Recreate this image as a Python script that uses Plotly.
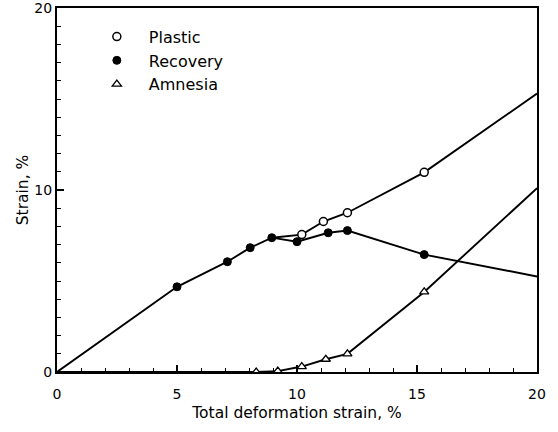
import plotly.graph_objects as go

recovery_x = [5.0, 7.1, 8.05, 8.95, 10.0, 11.3, 12.1, 15.3]
recovery_y = [4.68, 6.06, 6.83, 7.38, 7.16, 7.65, 7.77, 6.45]

plastic_x = [10.2, 11.1, 12.1, 15.3]
plastic_y = [7.55, 8.27, 8.75, 10.97]

amnesia_x = [8.3, 9.2, 10.2, 11.2, 12.1, 15.3]
amnesia_y = [0.0, 0.05, 0.3, 0.7, 1.0, 4.4]

# Fitted curves drawn through the points
recovery_line_x = [0.0, 5.0, 7.1, 8.05, 8.95, 10.0, 11.3, 12.1, 15.3, 20.0]
recovery_line_y = [0.0, 4.68, 6.06, 6.83, 7.38, 7.16, 7.65, 7.77, 6.45, 5.25]

plastic_line_x = [8.95, 10.2, 11.1, 12.1, 15.3, 20.0]
plastic_line_y = [7.38, 7.55, 8.27, 8.75, 10.97, 15.3]

amnesia_line_x = [0.0, 8.3, 9.2, 10.2, 11.2, 12.1, 15.3, 20.0]
amnesia_line_y = [0.0, 0.0, 0.05, 0.3, 0.7, 1.0, 4.4, 10.1]

x_ticks = [0, 5, 10, 15, 20]
y_ticks = [0, 10, 20]

FONT = "DejaVu Sans"
LW = 1.9

fig = go.Figure()
for lx, ly in [(recovery_line_x, recovery_line_y), (plastic_line_x, plastic_line_y),
               (amnesia_line_x, amnesia_line_y)]:
    fig.add_trace(go.Scatter(x=lx, y=ly, mode="lines", showlegend=False,
                             line=dict(color="black", width=LW), hoverinfo="skip"))

fig.add_trace(go.Scatter(x=plastic_x, y=plastic_y, mode="markers", name="Plastic",
                         marker=dict(symbol="circle", size=8, color="white",
                                     line=dict(color="black", width=1.5))))
fig.add_trace(go.Scatter(x=recovery_x, y=recovery_y, mode="markers", name="Recovery",
                         marker=dict(symbol="circle", size=8, color="black",
                                     line=dict(color="black", width=1))))
fig.add_trace(go.Scatter(x=amnesia_x, y=amnesia_y, mode="markers", name="Amnesia",
                         marker=dict(symbol="triangle-up", size=8, color="white",
                                     line=dict(color="black", width=1.3))))

axis_common = dict(showline=True, linecolor="black", linewidth=2, mirror=True,
                   ticks="inside", ticklen=7, tickwidth=1.5, tickcolor="black",
                   showgrid=False, zeroline=False, automargin=False,
                   ticklabeloverflow="allow",
                   tickfont=dict(family=FONT, size=14, color="black"),
                   minor=dict(ticks="inside", ticklen=4, tickwidth=1.2,
                              tickcolor="black", dtick=1, showgrid=False))

fig.update_xaxes(range=[0, 20], tickvals=x_ticks, ticktext=[str(v) for v in x_ticks],
                 ticklabelstandoff=8,
                 title=dict(text="Total deformation strain, %", standoff=6,
                            font=dict(family=FONT, size=15.5, color="black")),
                 **axis_common)
fig.update_yaxes(range=[0, 20], tickvals=y_ticks, ticktext=[str(v) for v in y_ticks],
                 title=dict(text="Strain, %", standoff=2,
                            font=dict(family=FONT, size=15.5, color="black")),
                 **axis_common)

fig.update_layout(
    width=558, height=432,
    margin=dict(l=57, r=21, t=8, b=60, autoexpand=False),
    paper_bgcolor="white", plot_bgcolor="white",
    font=dict(family=FONT, color="black"),
    legend=dict(x=0.058, y=0.968, xanchor="left", yanchor="top",
                bgcolor="rgba(0,0,0,0)", borderwidth=0,
                font=dict(family=FONT, size=16, color="black"),
                tracegroupgap=0, itemwidth=54),
)

fig.write_html("out.html", config={"displayModeBar": False},
               post_script="document.body.style.margin='0';document.body.style.padding='0';")
